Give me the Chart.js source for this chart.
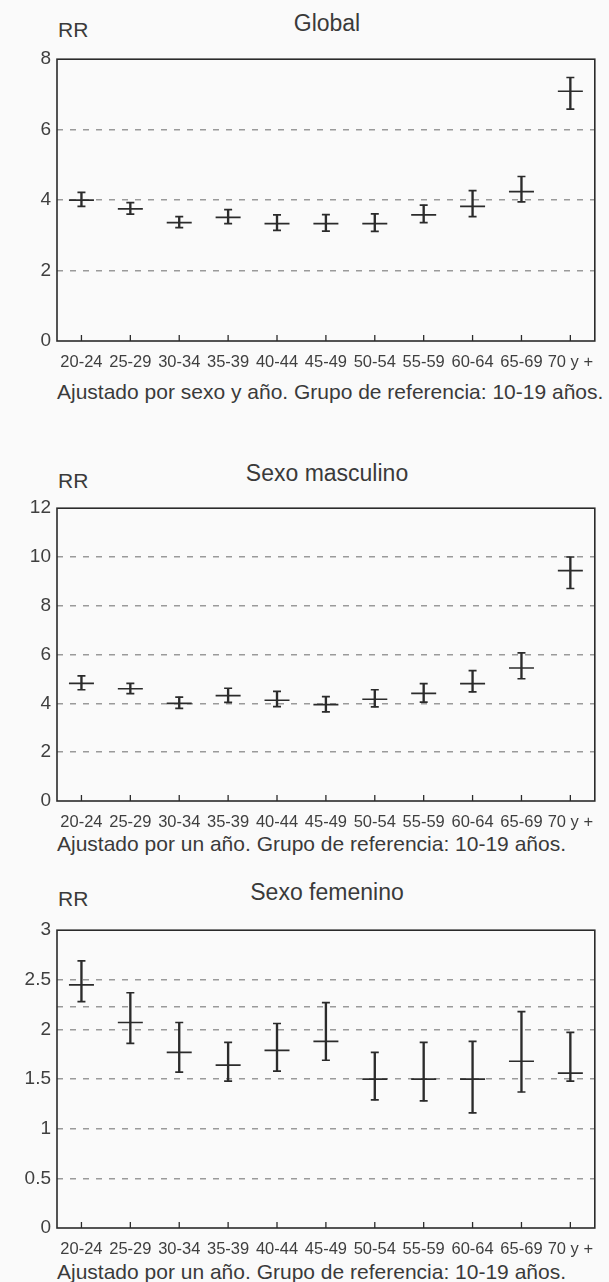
<!DOCTYPE html>
<html>
<head>
<meta charset="utf-8">
<script src="https://cdn.jsdelivr.net/npm/chart.js@4/dist/chart.umd.min.js"></script>
<style>
  body { margin: 0; background: #fafafa; }
  #page { position: relative; width: 609px; height: 1282px; font-family: "Liberation Sans", Arial, sans-serif; color: #3a3a3a; }
  .box { position: absolute; left: 0; width: 609px; }
  .title { position: absolute; width: 300px; left: 177px; text-align: center; font-size: 23px; line-height: 23px; }
  .rr { position: absolute; left: 58px; font-size: 21px; line-height: 21px; }
  .note { position: absolute; left: 57px; font-size: 21px; line-height: 21px; white-space: nowrap; }
</style>
</head>
<body>
<div id="page">
  <div class="title" style="top: 12px;">Global</div>
  <div class="rr" style="top: 19px;">RR</div>
  <div class="box" style="top: 45px; height: 326px;"><canvas id="globalChart"></canvas></div>
  <div class="note" style="top: 381px;">Ajustado por sexo y año. Grupo de referencia: 10-19 años.</div>

  <div class="title" style="top: 462px;">Sexo masculino</div>
  <div class="rr" style="top: 470px;">RR</div>
  <div class="box" style="top: 494px; height: 337px;"><canvas id="maleChart"></canvas></div>
  <div class="note" style="top: 833px;">Ajustado por un año. Grupo de referencia: 10-19 años.</div>

  <div class="title" style="top: 881px;">Sexo femenino</div>
  <div class="rr" style="top: 888px;">RR</div>
  <div class="box" style="top: 916px; height: 342px;"><canvas id="femaleChart"></canvas></div>
  <div class="note" style="top: 1261px;">Ajustado por un año. Grupo de referencia: 10-19 años.</div>
</div>

<script>
const ageGroups = ["20-24", "25-29", "30-34", "35-39", "40-44", "45-49", "50-54", "55-59", "60-64", "65-69", "70 y +"];

// Global
const globalRR = [4.0, 3.75, 3.36, 3.51, 3.33, 3.33, 3.33, 3.58, 3.82, 4.24, 7.09];
const globalLow = [3.82, 3.6, 3.22, 3.33, 3.14, 3.12, 3.11, 3.36, 3.53, 3.95, 6.58];
const globalHigh = [4.22, 3.93, 3.53, 3.73, 3.58, 3.59, 3.61, 3.86, 4.27, 4.67, 7.48];

// Sexo masculino
const maleRR = [4.82, 4.6, 4.0, 4.32, 4.13, 3.95, 4.17, 4.41, 4.81, 5.45, 9.44];
const maleLow = [4.56, 4.4, 3.8, 4.04, 3.87, 3.65, 3.86, 4.05, 4.47, 5.01, 8.71];
const maleHigh = [5.13, 4.82, 4.26, 4.62, 4.49, 4.28, 4.56, 4.81, 5.34, 6.07, 10.0];

// Sexo femenino
const femaleRR = [2.45, 2.07, 1.77, 1.64, 1.79, 1.88, 1.5, 1.5, 1.5, 1.68, 1.56];
const femaleLow = [2.28, 1.86, 1.57, 1.48, 1.58, 1.69, 1.29, 1.28, 1.16, 1.37, 1.48];
const femaleHigh = [2.69, 2.37, 2.07, 1.87, 2.06, 2.27, 1.77, 1.87, 1.88, 2.18, 1.97];
const femaleExtraLine = 2.23;

const ink = "#2b2b2b";
const gridGray = "#9a9a9a";
const textGray = "#3f3f3f";

// frame around the plot, small category ticks, optional extra dashed line
function framePlugin(extraLine) {
  return {
    id: "frame",
    beforeDatasetsDraw(chart) {
      if (extraLine == null) return;
      const { ctx, chartArea } = chart;
      const y = chart.scales.y.getPixelForValue(extraLine);
      ctx.save();
      ctx.strokeStyle = gridGray;
      ctx.lineWidth = 1.5;
      ctx.setLineDash([6, 7]);
      ctx.beginPath();
      ctx.moveTo(chartArea.left, y);
      ctx.lineTo(chartArea.right, y);
      ctx.stroke();
      ctx.restore();
    },
    afterDraw(chart) {
      const { ctx, chartArea } = chart;
      const x = chart.scales.x;
      ctx.save();
      ctx.strokeStyle = ink;
      ctx.lineWidth = 1.6;
      ctx.strokeRect(chartArea.left, chartArea.top, chartArea.right - chartArea.left, chartArea.bottom - chartArea.top);
      ctx.lineWidth = 1.3;
      ageGroups.forEach((g, i) => {
        const px = x.getPixelForValue(i);
        ctx.beginPath();
        ctx.moveTo(px, chartArea.bottom);
        ctx.lineTo(px, chartArea.bottom - 6);
        ctx.stroke();
      });
      ctx.restore();
    },
  };
}

function makeChart(id, rr, low, high, yMax, step, extraLine) {
  const pointSet = (data, radius) => ({
    type: "line",
    data: data,
    showLine: false,
    pointStyle: "line",
    pointRadius: radius,
    pointBorderWidth: 1.7,
    pointBorderColor: ink,
    pointBackgroundColor: ink,
  });

  new Chart(document.getElementById(id), {
    type: "bar",
    data: {
      labels: ageGroups,
      datasets: [
        {
          data: low.map((l, i) => [l, high[i]]),
          backgroundColor: ink,
          barThickness: 1.7,
          borderWidth: 0,
        },
        pointSet(low, 4),
        pointSet(high, 4),
        pointSet(rr, 12.5),
      ],
    },
    options: {
      responsive: true,
      maintainAspectRatio: false,
      animation: false,
      layout: { padding: { top: 8, right: 11, left: 0, bottom: 0 } },
      plugins: {
        legend: { display: false },
        tooltip: { enabled: false },
      },
      scales: {
        x: {
          grid: { display: false },
          border: { display: false },
          ticks: {
            autoSkip: false,
            maxRotation: 0,
            padding: 4,
            color: textGray,
            font: { family: "Liberation Sans", size: 16.5 },
          },
          afterFit(scale) {
            scale.height = 30;
            scale.paddingLeft = 0;
            scale.paddingRight = 0;
          },
        },
        y: {
          min: 0,
          max: yMax,
          grid: {
            drawTicks: false,
            lineWidth: 1.5,
            color: (c) => (c.tick && (c.tick.value === 0 || c.tick.value === yMax) ? "transparent" : gridGray),
          },
          border: { display: false, dash: [6, 7] },
          ticks: {
            stepSize: step,
            padding: 6,
            color: textGray,
            font: { family: "Liberation Sans", size: 19 },
            callback: (v) => String(v),
          },
          afterFit(scale) {
            scale.width = 57;
            scale.paddingTop = 0;
            scale.paddingBottom = 0;
          },
        },
      },
    },
    plugins: [framePlugin(extraLine)],
  });
}

makeChart("globalChart", globalRR, globalLow, globalHigh, 8, 2, null);
makeChart("maleChart", maleRR, maleLow, maleHigh, 12, 2, null);
makeChart("femaleChart", femaleRR, femaleLow, femaleHigh, 3, 0.5, femaleExtraLine);
</script>
</body>
</html>
